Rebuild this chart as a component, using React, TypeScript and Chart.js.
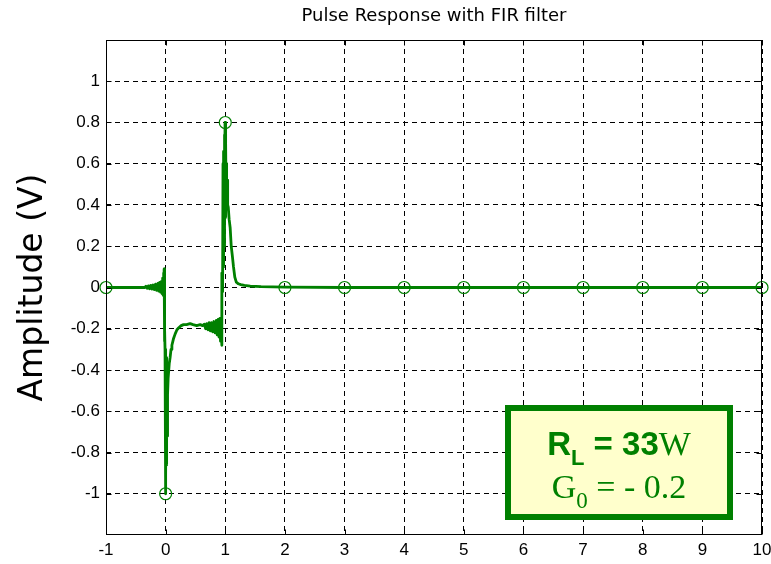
import React, { useEffect, useRef } from "react";
import { Chart, registerables } from "chart.js";

Chart.register(...registerables);

// Axis ticks and limits
const xTicks = [-1, 0, 1, 2, 3, 4, 5, 6, 7, 8, 9, 10];
const yTicks = [-1, -0.8, -0.6, -0.4, -0.2, 0, 0.2, 0.4, 0.6, 0.8, 1];
const xLimits = [-1, 10];
const yLimits = [-1.2, 1.2];

// Received pulse (time in symbol periods, amplitude in volts)
const waveT = [
  -1, -0.35, -0.33, -0.31, -0.29, -0.27, -0.25, -0.23, -0.21, -0.19, -0.17, -0.15,
  -0.13, -0.115, -0.1, -0.085, -0.07, -0.06, -0.05, -0.043, -0.036, -0.03, -0.025,
  -0.02, -0.015, -0.01, -0.006, -0.003, 0, 0.003, 0.006, 0.009, 0.012, 0.015, 0.018,
  0.021, 0.024, 0.027, 0.03, 0.034, 0.038,
  0.042, 0.06, 0.075, 0.09, 0.105, 0.13, 0.16, 0.19, 0.22, 0.26, 0.3, 0.35, 0.41,
  0.46, 0.52, 0.58, 0.62, 0.65, 0.67, 0.69, 0.71, 0.73, 0.75, 0.77, 0.79, 0.81, 0.83,
  0.85, 0.865, 0.88, 0.895, 0.91, 0.92, 0.93, 0.94, 0.945, 0.955, 0.962, 0.968, 0.975,
  0.98, 0.986, 0.99, 0.996, 1.0, 1.004, 1.008, 1.012, 1.016, 1.02, 1.025, 1.03, 1.04,
  1.05, 1.065, 1.082,
  1.1, 1.12, 1.138, 1.16, 1.185, 1.22, 1.26, 1.32, 1.42, 1.6, 2, 3, 10,
];
const waveV = [
  0, 0, 0.006, -0.004, 0.008, -0.006, 0.01, -0.008, 0.012, -0.01, 0.016, -0.014,
  0.02, -0.018, 0.025, -0.022, 0.03, -0.03, 0.045, -0.035, 0.07, -0.04, 0.09,
  -0.26, -0.2, -0.3, -0.55, -0.3, -1.0, -0.32, -0.92, -0.34, -0.86, -0.36, -0.8,
  -0.38, -0.72, -0.4, -0.62, -0.45, -0.52,
  -0.44, -0.37, -0.34, -0.3, -0.28, -0.25, -0.225, -0.205, -0.195, -0.185, -0.18, -0.18, -0.175,
  -0.18, -0.185, -0.18, -0.185, -0.178, -0.2, -0.175, -0.205, -0.17, -0.21, -0.17, -0.215, -0.165, -0.22,
  -0.16, -0.23, -0.155, -0.24, -0.15, -0.26, -0.16, -0.28, 0.07, -0.02, 0.6, 0.1, 0.66,
  0.2, 0.74, 0.3, 0.8, 0.34, 0.76, 0.36, 0.7, 0.38, 0.6, 0.4, 0.52, 0.4,
  0.39, 0.33, 0.29,
  0.2, 0.15, 0.1, 0.05, 0.026, 0.018, 0.014, 0.01, 0.007, 0.004, 0.002, 0, 0,
];

// Samples taken once per symbol period
const sampleT = [-1, 0, 1, 2, 3, 4, 5, 6, 7, 8, 9, 10];
const sampleV = [0, -1, 0.8, 0, 0, 0, 0, 0, 0, 0, 0, 0];

const titleText = "Pulse Response with FIR filter";
const yAxisTitle = "Amplitude (V)";

const GREEN = "#008000";

type Part = { text: string; font: string; dy: number };

// Note box: load resistance and tap gain
const noteLine1: Part[] = [
  { text: "R", font: 'bold 33px "Liberation Sans"', dy: 0 },
  { text: "L", font: 'bold 22px "Liberation Sans"', dy: 10 },
  { text: " = 33", font: 'bold 33px "Liberation Sans"', dy: 0 },
  { text: "W", font: '34px "Liberation Serif"', dy: 0 },
];
const noteLine2: Part[] = [
  { text: "G", font: '34px "Liberation Serif"', dy: 0 },
  { text: "0", font: '23px "Liberation Serif"', dy: 10 },
  { text: " = - 0.2", font: '34px "Liberation Serif"', dy: 0 },
];

function drawParts(ctx: CanvasRenderingContext2D, parts: Part[], cx: number, baseline: number) {
  let total = 0;
  for (const p of parts) {
    ctx.font = p.font;
    total += ctx.measureText(p.text).width;
  }
  let x = cx - total / 2;
  for (const p of parts) {
    ctx.font = p.font;
    ctx.fillText(p.text, x, baseline + p.dy);
    x += ctx.measureText(p.text).width;
  }
}

const framePlugin = {
  id: "plotFrame",
  afterDatasetsDraw(chart: any) {
    const { ctx, chartArea: a, scales } = chart;
    ctx.save();
    ctx.strokeStyle = "#000";
    ctx.lineWidth = 1;
    const L = Math.round(a.left) + 0.5;
    const R = Math.round(a.right) - 0.5;
    const T = Math.round(a.top) + 0.5;
    const B = Math.round(a.bottom) - 0.5;
    ctx.strokeRect(L, T, R - L, B - T);
    ctx.beginPath();
    for (const v of xTicks) {
      const px = Math.round(scales.x.getPixelForValue(v)) + 0.5;
      ctx.moveTo(px, B);
      ctx.lineTo(px, B - 5);
      ctx.moveTo(px, T);
      ctx.lineTo(px, T + 5);
    }
    for (const v of yTicks) {
      const py = Math.round(scales.y.getPixelForValue(v)) + 0.5;
      ctx.moveTo(L, py);
      ctx.lineTo(L + 5, py);
      ctx.moveTo(R, py);
      ctx.lineTo(R - 5, py);
    }
    ctx.stroke();
    ctx.restore();
  },
  afterDraw(chart: any) {
    const { ctx, chartArea: a } = chart;
    const left = a.right - 257;
    const right = a.right - 29;
    const top = a.bottom - 130;
    const bottom = a.bottom - 15;
    ctx.save();
    ctx.fillStyle = "#FFFFCC";
    ctx.fillRect(left, top, right - left, bottom - top);
    ctx.strokeStyle = GREEN;
    ctx.lineWidth = 6;
    ctx.strokeRect(left + 3, top + 3, right - left - 6, bottom - top - 6);
    ctx.fillStyle = GREEN;
    ctx.textBaseline = "alphabetic";
    ctx.textAlign = "left";
    const cx = (left + right) / 2;
    drawParts(ctx, noteLine1, cx, top + 50);
    drawParts(ctx, noteLine2, cx, top + 93);
    ctx.restore();
  },
};

export default function App() {
  const canvasRef = useRef<HTMLCanvasElement | null>(null);

  useEffect(() => {
    const canvas = canvasRef.current;
    if (!canvas) return;
    const tickFont = { family: '"Liberation Sans", Arial, sans-serif', size: 17 };
    const chart = new Chart(canvas, {
      type: "line",
      data: {
        datasets: [
          {
            label: "pulse",
            data: waveT.map((t, i) => ({ x: t, y: waveV[i] })),
            borderColor: GREEN,
            borderWidth: 2.8,
            borderJoinStyle: "round",
            pointRadius: 0,
            tension: 0,
            fill: false,
            order: 1,
          },
          {
            label: "samples",
            data: sampleT.map((t, i) => ({ x: t, y: sampleV[i] })),
            showLine: false,
            pointStyle: "circle",
            pointRadius: 6,
            pointBorderWidth: 1.2,
            pointBorderColor: GREEN,
            pointBackgroundColor: "rgba(0,0,0,0)",
            clip: false,
            order: 0,
          },
        ],
      },
      options: {
        responsive: false,
        animation: false,
        events: [],
        layout: { padding: { top: 0, right: 9, bottom: 0, left: 0 } },
        plugins: {
          legend: { display: false },
          tooltip: { enabled: false },
          title: {
            display: true,
            text: titleText,
            fullSize: false,
            color: "#000",
            font: { family: '"DejaVu Sans", sans-serif', size: 18, weight: "normal" },
            padding: { top: 6, bottom: 12.4 },
          },
        },
        scales: {
          x: {
            type: "linear",
            min: xLimits[0],
            max: xLimits[1],
            afterBuildTicks: (scale: any) => {
              scale.ticks = xTicks.map((v) => ({ value: v }));
            },
            afterFit: (scale: any) => {
              scale.height = 29;
              scale.paddingLeft = 0;
              scale.paddingRight = 0;
            },
            ticks: {
              color: "#000",
              font: tickFont,
              padding: 5,
              autoSkip: false,
              maxRotation: 0,
              callback: (v: any) => String(v),
            },
            grid: { color: "#000", lineWidth: 1, drawTicks: false, tickLength: 0 },
            border: { display: false, dash: [5, 4] },
          },
          y: {
            type: "linear",
            min: yLimits[0],
            max: yLimits[1],
            afterBuildTicks: (scale: any) => {
              scale.ticks = yTicks.map((v) => ({ value: v }));
            },
            afterFit: (scale: any) => {
              scale.width = 106;
              scale.paddingTop = 0;
              scale.paddingBottom = 0;
            },
            ticks: {
              color: "#000",
              font: tickFont,
              padding: 6,
              callback: (v: any) => String(v),
            },
            title: {
              display: true,
              text: yAxisTitle,
              color: "#000",
              font: { family: '"DejaVu Sans", sans-serif', size: 33, weight: "normal" },
              padding: { top: 14, bottom: 0 },
            },
            grid: { color: "#000", lineWidth: 1, drawTicks: false, tickLength: 0 },
            border: { display: false, dash: [5, 4] },
          },
        },
      },
      plugins: [framePlugin],
    });
    return () => chart.destroy();
  }, []);

  return (
    <div style={{ position: "absolute", left: 0, top: 0, width: 771, height: 564, background: "#fff" }}>
      <canvas ref={canvasRef} width={771} height={564} style={{ display: "block" }} />
    </div>
  );
}
